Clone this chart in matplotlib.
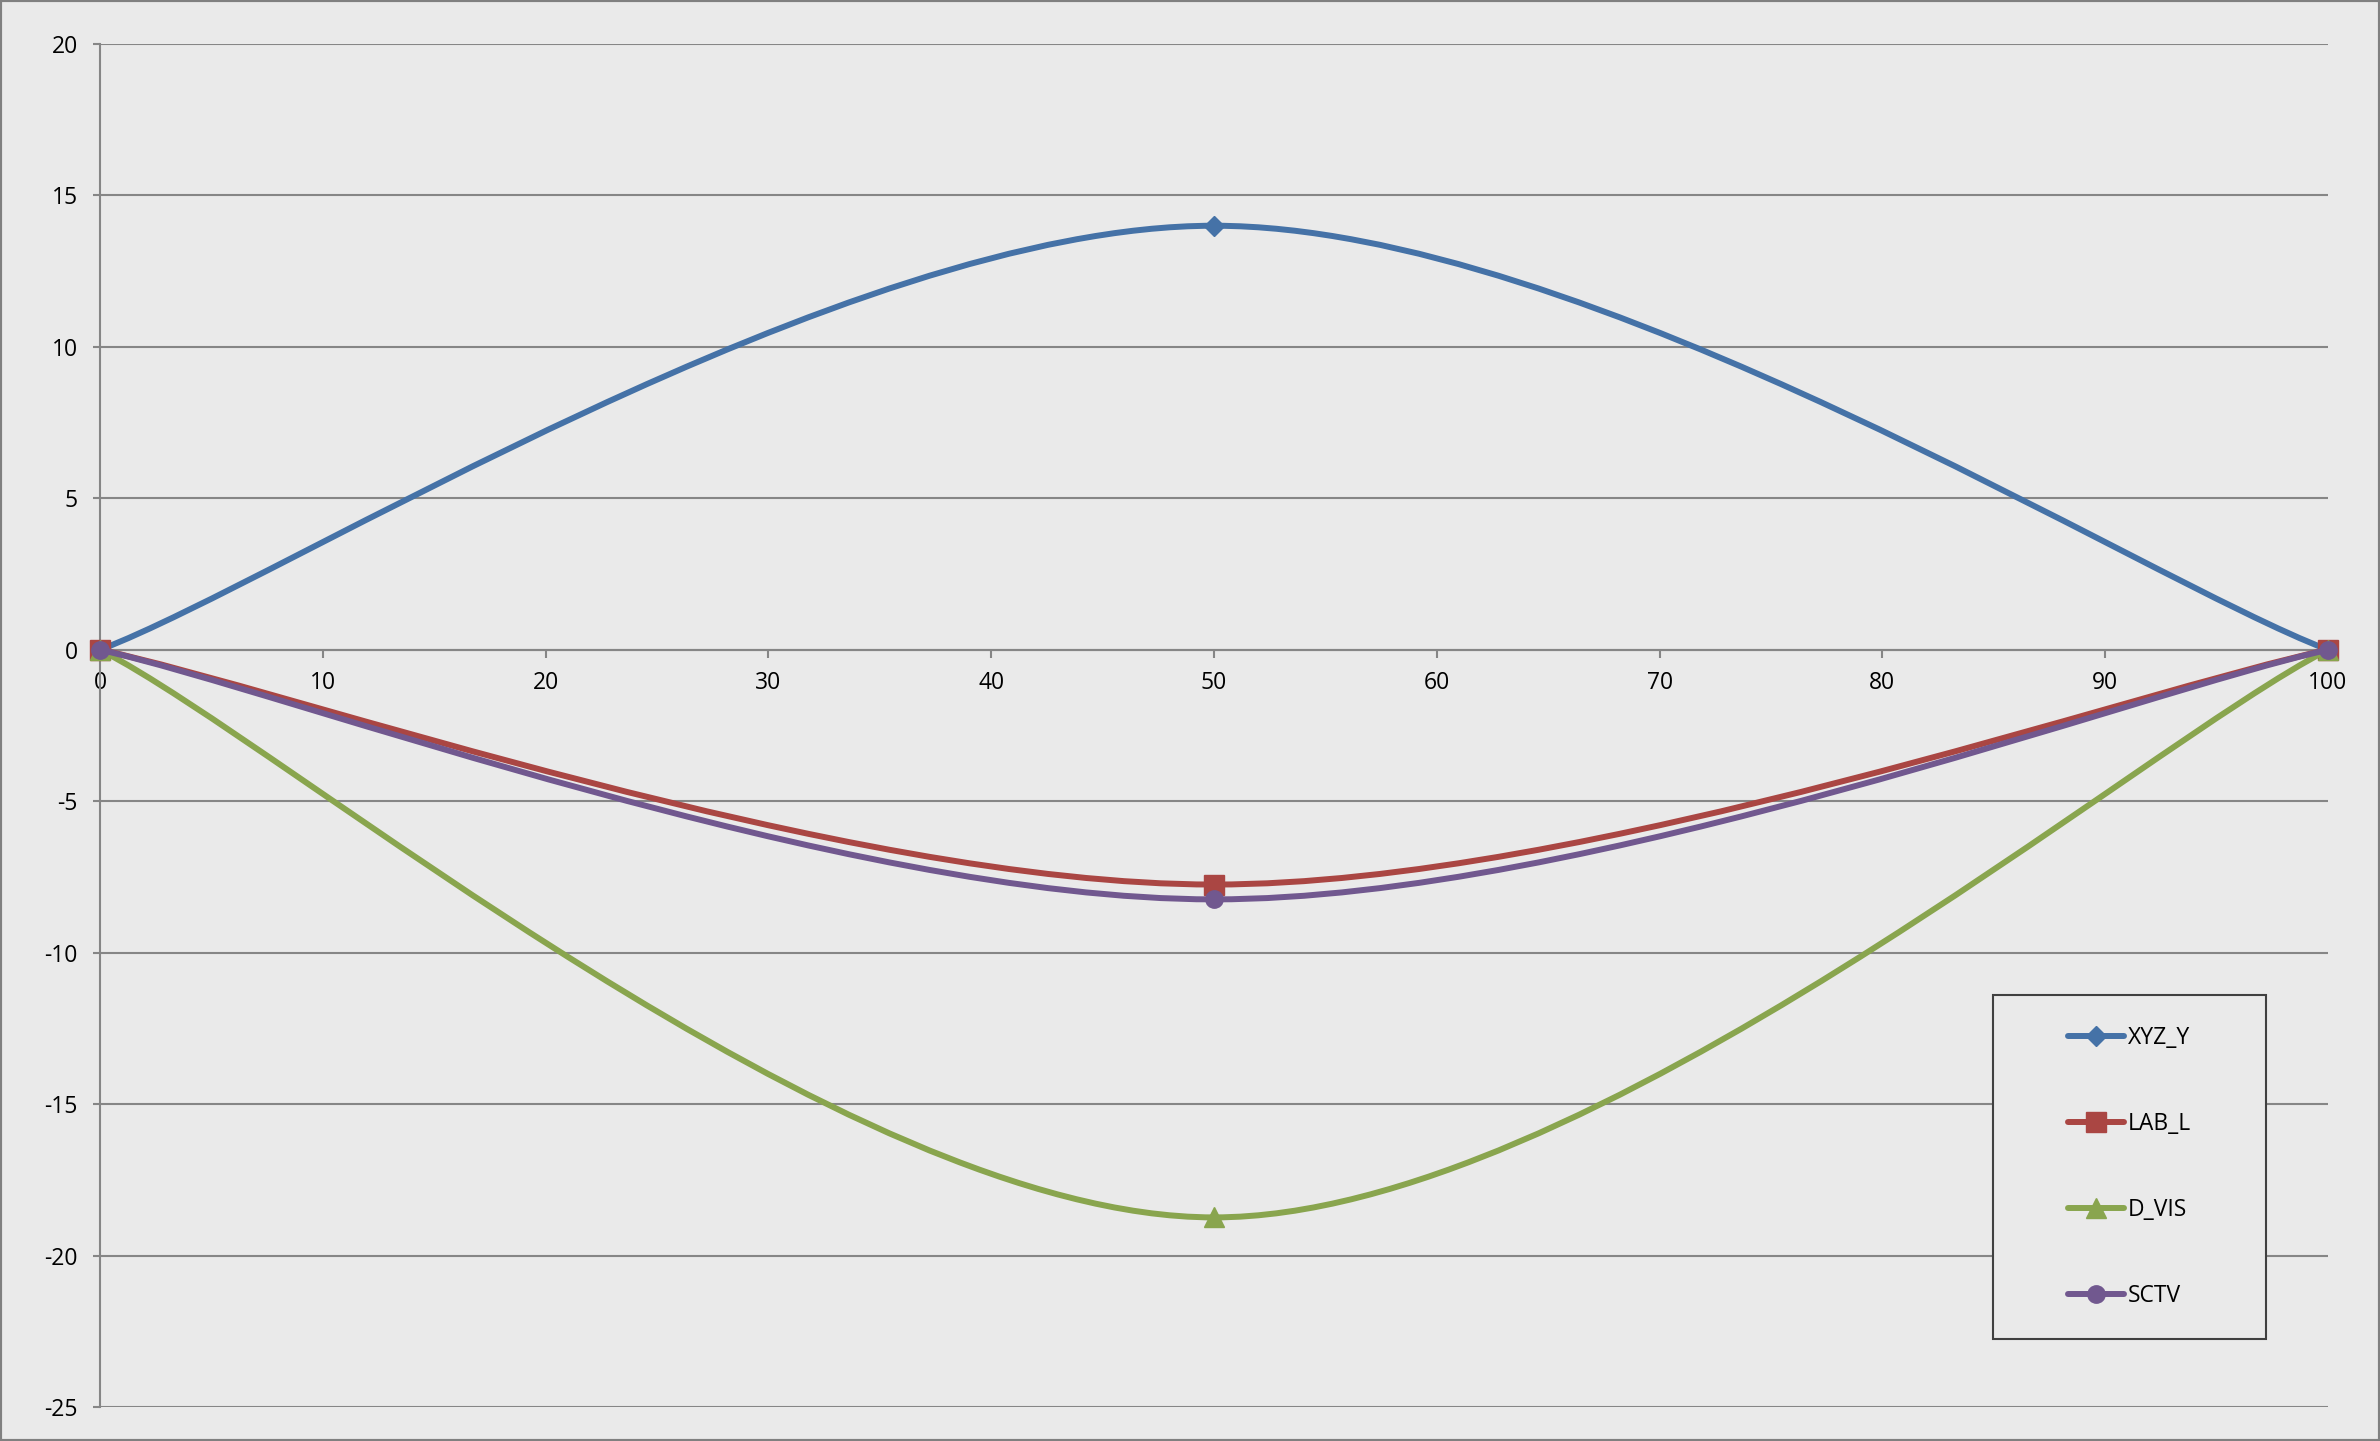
import numpy as np
import matplotlib
matplotlib.use("Agg")
import matplotlib.pyplot as plt
from matplotlib.path import Path
from matplotlib.patches import PathPatch, Rectangle
from matplotlib.lines import Line2D

# data (3 points per series, drawn as smoothed lines)
x_vals = [0, 50, 100]
xyz_y = [0, 14.0, 0]
lab_l = [0, -7.75, 0]
d_vis = [0, -18.74, 0]
sctv = [0, -8.24, 0]

series_names = ["XYZ_Y", "LAB_L", "D_VIS", "SCTV"]
series_colors = ["#4572A7", "#AA4643", "#89A54E", "#71588F"]
series_markers = ["D", "s", "^", "o"]
marker_sizes = [10, 14, 14, 12.5]

x_ticks = list(range(0, 101, 10))
y_ticks = list(range(-25, 21, 5))

BG = "#EAEAEA"
GRID = "#868686"

plt.rcParams["font.family"] = ["Open Sans", "DejaVu Sans"]
plt.rcParams["axes.unicode_minus"] = False


def smooth_path(xs, ys):
    # excel style smoothed line: cubic bezier through every point
    pts = np.column_stack([xs, ys]).astype(float)
    n = len(pts)
    verts = [pts[0]]
    codes = [Path.MOVETO]
    for i in range(n - 1):
        p0 = pts[max(i - 1, 0)]
        p1 = pts[i]
        p2 = pts[i + 1]
        p3 = pts[min(i + 2, n - 1)]
        c1 = p1 + (p2 - p0) / 6.0
        c2 = p2 - (p3 - p1) / 6.0
        verts += [c1, c2, p2]
        codes += [Path.CURVE4] * 3
    return Path(verts, codes)


fig = plt.figure(figsize=(23.8, 14.41), dpi=100, facecolor=BG)
ax = fig.add_axes([100 / 2380, 1 - 1407 / 1441, (2328 - 100) / 2380, (1407 - 44) / 1441])
ax.set_facecolor(BG)

all_series = [xyz_y, lab_l, d_vis, sctv]
handles = []
for i, ys in enumerate(all_series):
    col = series_colors[i]
    patch = PathPatch(smooth_path(x_vals, ys), facecolor="none", edgecolor=col,
                      lw=4.3, capstyle="round", joinstyle="round", zorder=3 + i * 0.1)
    ax.add_patch(patch)
    ax.plot(x_vals, ys, linestyle="none", marker=series_markers[i], ms=marker_sizes[i],
            color=col, mec=col, zorder=3.05 + i * 0.1, clip_on=False)
    handles.append(Line2D([], [], color=col, lw=4.3, solid_capstyle="round",
                          marker=series_markers[i], ms=marker_sizes[i], mec=col))

ax.set_xlim(0, 100)
ax.set_ylim(-25, 20)
ax.set_xticks(x_ticks)
ax.set_yticks(y_ticks)

ax.grid(axis="y", color=GRID, lw=1.5, zorder=1)
ax.set_axisbelow(True)
for s in ["top", "right"]:
    ax.spines[s].set_visible(False)
ax.spines["bottom"].set_position(("data", 0))
ax.spines["bottom"].set_color(GRID)
ax.spines["bottom"].set_linewidth(1.5)
ax.spines["bottom"].set_zorder(2)
ax.spines["left"].set_color(GRID)
ax.spines["left"].set_linewidth(1.5)

ax.tick_params(axis="y", direction="out", length=5, width=1.5, color=GRID,
               labelsize=16.5, pad=11)
ax.tick_params(axis="x", direction="out", length=5.5, width=1.5, color=GRID,
               labelsize=16.5, pad=10)

# legend box
lx0, ly0 = 1993 / 2380, 1 - 1339 / 1441
frame = Rectangle((lx0, ly0), 273 / 2380, 344 / 1441, transform=fig.transFigure,
                  facecolor=BG, edgecolor="#404040", lw=1.5, zorder=5)
fig.add_artist(frame)
leg = fig.legend(handles, series_names, loc="center",
                 bbox_to_anchor=(2129.5 / 2380, 1 - 1167 / 1441),
                 bbox_transform=fig.transFigure, frameon=False, fontsize=16.5,
                 handlelength=2.45, handletextpad=0.15, labelspacing=2.7,
                 borderpad=0)
leg.set_zorder(6)

# outer border of the chart
fig.add_artist(Rectangle((0, 0), 1, 1, transform=fig.transFigure, fill=False,
                         edgecolor="#808080", lw=3))

plt.savefig("out.png", dpi=100, facecolor=BG)
plt.close()
